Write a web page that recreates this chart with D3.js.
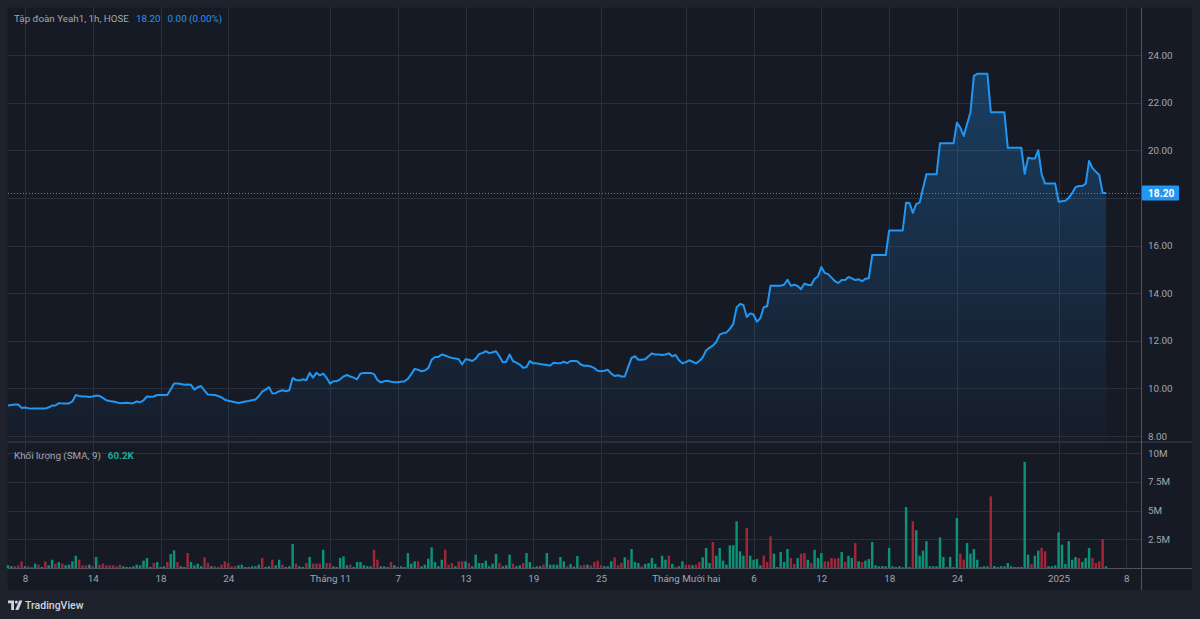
<!DOCTYPE html>
<html>
<head>
<meta charset="utf-8">
<script src="https://cdn.jsdelivr.net/npm/d3@7/dist/d3.min.js"></script>
<style>
  html, body { margin: 0; padding: 0; background: #1e222d; }
  svg { display: block; }
  text { font-family: Roboto, "Noto Sans", "DejaVu Sans", sans-serif; }
</style>
</head>
<body>
<svg id="chart" width="1200" height="619"></svg>
<script>
// ---------------- DATA ----------------
const title = "Tập đoàn Yeah1, 1h, HOSE";
const lastPrice = 18.20;
const changeText = "0.00 (0.00%)";
const volumeLegend = "Khối lượng (SMA, 9)";
const volumeSma = "60.2K";

// hourly closes (5 bars per trading day), from Oct 7 2024
const price = [
  9.28, 9.30, 9.32, 9.32, 9.18, 9.20, 9.17, 9.15, 9.15, 9.15,
  9.15, 9.16, 9.20, 9.28, 9.28, 9.38, 9.37, 9.37, 9.37, 9.45,
  9.72, 9.68, 9.66, 9.66, 9.64, 9.66, 9.70, 9.68, 9.60, 9.50,
  9.47, 9.45, 9.42, 9.38, 9.39, 9.40, 9.38, 9.38, 9.45, 9.42,
  9.50, 9.66, 9.65, 9.66, 9.72, 9.72, 9.72, 9.72, 9.95, 10.20,
  10.20, 10.18, 10.15, 10.16, 10.15, 9.95, 10.05, 10.10, 9.90, 9.74,
  9.73, 9.72, 9.68, 9.62, 9.52, 9.48, 9.45, 9.42, 9.39, 9.42,
  9.45, 9.47, 9.50, 9.53, 9.67, 9.86, 9.95, 10.05, 9.79, 9.80,
  9.88, 9.92, 9.88, 9.92, 10.44, 10.35, 10.33, 10.38, 10.34, 10.65,
  10.45, 10.65, 10.55, 10.62, 10.45, 10.20, 10.30, 10.30, 10.38, 10.50,
  10.56, 10.50, 10.45, 10.38, 10.62, 10.65, 10.65, 10.65, 10.60, 10.35,
  10.25, 10.30, 10.32, 10.28, 10.26, 10.26, 10.28, 10.30, 10.40, 10.60,
  10.82, 10.78, 10.72, 10.75, 10.85, 11.20, 11.32, 11.32, 11.42, 11.38,
  11.32, 11.28, 11.26, 11.22, 11.00, 11.22, 11.20, 11.15, 11.25, 11.44,
  11.48, 11.56, 11.48, 11.52, 11.56, 11.35, 11.10, 11.12, 11.42, 11.15,
  11.08, 11.00, 10.86, 10.90, 11.15, 11.05, 11.05, 11.02, 11.00, 10.98,
  10.96, 11.08, 11.06, 11.05, 11.12, 11.06, 11.15, 11.15, 11.14, 11.00,
  10.95, 10.95, 10.92, 10.85, 10.74, 10.72, 10.74, 10.78, 10.62, 10.52,
  10.55, 10.50, 10.50, 10.90, 11.28, 11.35, 11.20, 11.20, 11.22, 11.35,
  11.47, 11.42, 11.42, 11.40, 11.42, 11.47, 11.35, 11.40, 11.18, 11.05,
  11.10, 11.18, 11.12, 11.05, 11.15, 11.30, 11.60, 11.70, 11.80, 11.95,
  12.26, 12.32, 12.35, 12.50, 12.71, 13.40, 13.55, 13.50, 13.00, 13.15,
  13.10, 12.80, 12.95, 13.41, 13.45, 14.31, 14.31, 14.31, 14.31, 14.35,
  14.56, 14.31, 14.35, 14.30, 14.16, 14.40, 14.35, 14.33, 14.60, 14.70,
  15.10, 14.85, 14.80, 14.65, 14.50, 14.42, 14.55, 14.55, 14.68, 14.62,
  14.55, 14.58, 14.50, 14.60, 14.62, 15.60, 15.60, 15.60, 15.60, 15.60,
  16.63, 16.63, 16.63, 16.63, 16.63, 17.80, 17.78, 17.37, 17.75, 17.80,
  18.40, 18.99, 18.99, 18.99, 18.99, 20.29, 20.29, 20.29, 20.29, 20.29,
  21.16, 20.95, 20.60, 21.10, 21.60, 23.12, 23.21, 23.21, 23.21, 23.21,
  21.60, 21.60, 21.60, 21.60, 21.60, 20.10, 20.10, 20.10, 20.10, 20.10,
  19.01, 19.69, 19.65, 19.65, 20.00, 19.00, 18.60, 18.60, 18.60, 18.60,
  17.84, 17.86, 17.88, 18.00, 18.20, 18.45, 18.50, 18.50, 18.60, 19.55,
  19.25, 19.10, 18.96, 18.20, 18.20
];

// hourly volume, millions of shares
const volume = [
  0.23, 0.15, 0.15, 0.23, 0.58, 0.15, 0.15, 0.06, 0.38, 0.29,
  0.09, 0.58, 0.23, 0.72, 0.38, 0.52, 0.38, 0.23, 0.29, 0.58,
  1.07, 0.72, 0.23, 0.23, 0.29, 0.15, 0.96, 0.29, 0.38, 0.23,
  0.23, 0.23, 0.15, 0.29, 0.15, 0.09, 0.09, 0.15, 0.29, 0.23,
  0.64, 0.87, 0.09, 0.43, 0.52, 0.09, 0.15, 0.52, 1.22, 1.54,
  0.52, 0.15, 0.09, 1.30, 0.52, 0.23, 0.38, 0.15, 0.93, 0.43,
  0.15, 0.15, 0.09, 0.29, 0.58, 0.43, 0.15, 0.15, 0.23, 0.29,
  0.09, 0.09, 0.15, 0.15, 0.29, 0.87, 0.09, 0.15, 0.72, 0.23,
  0.72, 0.29, 0.09, 0.15, 2.09, 0.38, 0.15, 0.09, 0.43, 0.96,
  0.38, 0.38, 0.38, 1.59, 0.43, 0.43, 0.15, 0.09, 0.87, 1.01,
  0.23, 0.29, 0.09, 0.52, 0.52, 0.23, 0.15, 0.15, 1.59, 0.72,
  0.15, 0.15, 0.09, 0.52, 0.23, 0.09, 0.15, 0.09, 1.30, 0.38,
  0.58, 0.58, 0.15, 0.29, 0.81, 1.80, 0.52, 0.15, 0.72, 1.59,
  0.29, 0.43, 0.15, 0.58, 0.58, 0.58, 0.43, 0.15, 1.16, 0.43,
  0.43, 0.64, 0.15, 0.38, 1.22, 0.43, 0.15, 0.23, 1.16, 0.38,
  0.15, 0.23, 0.43, 1.30, 0.52, 0.09, 0.15, 0.15, 0.29, 1.30,
  0.29, 0.29, 0.29, 0.96, 0.58, 0.15, 0.35, 0.12, 1.04, 0.23,
  0.29, 0.29, 0.23, 0.52, 0.64, 0.23, 0.15, 0.15, 0.58, 0.93,
  0.23, 0.43, 0.93, 0.72, 1.65, 0.52, 0.43, 0.15, 0.35, 0.43,
  0.87, 0.35, 0.09, 1.07, 0.72, 1.07, 0.35, 0.09, 0.15, 0.58,
  0.29, 0.29, 0.23, 0.29, 0.52, 0.93, 1.74, 0.43, 2.26, 1.07,
  1.74, 0.64, 0.29, 1.97, 1.97, 4.06, 1.45, 1.07, 3.48, 1.07,
  0.72, 0.78, 0.23, 1.07, 0.52, 2.75, 1.25, 0.09, 1.39, 0.52,
  1.65, 0.87, 0.35, 0.87, 1.25, 1.30, 0.72, 0.43, 1.59, 0.87,
  1.30, 0.58, 0.58, 0.87, 0.81, 0.87, 1.39, 0.52, 1.07, 0.87,
  2.17, 0.58, 0.52, 0.64, 0.78, 2.26, 0.23, 0.15, 0.17, 0.15,
  1.74, 0.15, 0.09, 0.15, 0.06, 5.30, 0.09, 4.06, 3.28, 1.07,
  1.51, 2.32, 0.15, 0.15, 0.15, 2.67, 0.96, 0.09, 0.96, 0.09,
  4.35, 1.25, 0.72, 2.17, 1.25, 1.65, 0.72, 0.09, 0.15, 0.15,
  6.23, 0.17, 0.09, 0.15, 0.15, 0.43, 0.15, 0.09, 0.09, 0.09,
  9.22, 1.16, 0.35, 1.07, 1.51, 1.74, 1.45, 0.15, 0.15, 0.23,
  3.10, 2.03, 0.35, 2.32, 0.72, 0.96, 0.87, 0.52, 0.87, 1.74,
  0.87, 0.43, 0.58, 2.52, 0.15
];

// 1 = up bar (green), 0 = down bar (red)
const volUp = [
  1,1,0,0,0,1,0,1,1,0, 1,0,1,1,0,1,0,1,1,1, 1,0,0,0,1,0,1,0,0,0,
  0,0,0,0,1,1,1,1,1,1, 1,1,1,0,1,1,1,0,1,1, 0,1,1,0,1,1,1,1,0,0,
  1,0,0,0,0,0,0,0,1,1, 1,1,1,1,1,0,1,1,0,1, 1,0,1,1,1,0,1,1,0,1,
  0,0,0,1,0,0,1,1,1,1, 1,0,1,1,1,1,1,1,0,0, 1,1,1,0,1,1,1,1,1,1,
  1,0,1,1,1,1,1,1,1,0, 0,0,1,0,0,1,0,1,1,1, 1,1,1,1,1,0,1,1,1,0,
  1,1,0,1,1,1,1,1,0,1, 1,1,1,1,1,0,1,1,1,0, 0,1,0,0,0,0,1,1,1,0,
  0,0,1,0,1,1,1,0,1,1, 1,1,0,1,1,0,1,0,1,1, 0,0,1,0,0,1,1,1,0,1,
  1,1,1,1,1,1,1,1,0,1, 1,1,1,0,0,0,1,1,1,1, 1,0,0,1,0,0,1,0,1,1,
  1,0,0,0,0,0,1,0,1,1, 0,1,0,1,1,1,1,1,1,1, 1,1,1,1,1,1,1,0,1,1,
  1,1,1,1,1,1,1,1,1,1, 1,0,0,1,1,1,1,1,1,1, 0,1,1,1,1,1,1,1,1,1,
  1,1,0,1,1,0,0,1,1,1, 1,1,1,1,1,1,0,1,1,1, 0,0,0,0,1
];

// time axis: [trading-day index, label]
const tickDays = [1, 5, 9, 13, 19, 23, 27, 31, 35, 40, 44, 48, 52, 56, 62, 66];
const tickLabels = ["8", "14", "18", "24", "Tháng 11", "7", "13", "19", "25",
                    "Tháng Mười hai", "6", "12", "18", "24", "2025", "8"];
const priceTicks = [8, 10, 12, 14, 16, 18, 20, 22, 24];
const volTicks = [2.5, 5, 7.5, 10];
const volTickLabels = ["2.5M", "5M", "7.5M", "10M"];
const barsPerDay = 5;

// ---------------- LAYOUT ----------------
const W = { left: 7.5, top: 7.5, right: 1192, bottom: 590 };
const plotRight = 1141;
const pricePane = { top: 8, bottom: 441 };
const volPane = { top: 442, bottom: 568 };
const FS = 9.8;

const C = {
  outer: "#1e222d", bg: "#161a25", grid: "#2b2f3a", border: "#50535e",
  text: "#a3a6af", blue: "#2196f3",
  volGreen: "#0b9278", volRed: "#a02638", legendGreen: "#22ab94"
};

const svg = d3.select("#chart");
svg.append("rect").attr("width", 1200).attr("height", 619).attr("fill", C.outer);
svg.append("rect").attr("x", W.left).attr("y", W.top)
  .attr("width", W.right - W.left).attr("height", W.bottom - W.top).attr("fill", C.bg);

// scales
const x = d3.scaleLinear().domain([0, 66]).range([8, 8 + 66 * 16.945]);
const xBar = i => x(i / barsPerDay);
const yP = d3.scaleLinear().domain([8, 24]).range([436, 55]);
const yV = d3.scaleLinear().domain([0, 10]).range([568, 453]);

const defs = svg.append("defs");
defs.append("clipPath").attr("id", "pclip").append("rect")
  .attr("x", 8).attr("y", pricePane.top).attr("width", plotRight - 8).attr("height", pricePane.bottom - pricePane.top);
const grad = defs.append("linearGradient").attr("id", "areaGrad")
  .attr("gradientUnits", "userSpaceOnUse").attr("x1", 0).attr("x2", 0)
  .attr("y1", yP(24)).attr("y2", pricePane.bottom);
grad.append("stop").attr("offset", "0%").attr("stop-color", C.blue).attr("stop-opacity", 0.30);
grad.append("stop").attr("offset", "100%").attr("stop-color", C.blue).attr("stop-opacity", 0.02);

// grid
const grid = svg.append("g");
grid.selectAll("line.v").data(tickDays).join("line")
  .attr("x1", d => Math.round(x(d)) + 0.5).attr("x2", d => Math.round(x(d)) + 0.5)
  .attr("y1", W.top).attr("y2", volPane.bottom)
  .attr("stroke", C.grid).attr("stroke-width", 1);
grid.selectAll("line.hp").data(priceTicks).join("line")
  .attr("x1", 8).attr("x2", plotRight)
  .attr("y1", d => Math.round(yP(d)) + 0.5).attr("y2", d => Math.round(yP(d)) + 0.5)
  .attr("stroke", C.grid);
grid.selectAll("line.hv").data(volTicks).join("line")
  .attr("x1", 8).attr("x2", plotRight)
  .attr("y1", d => Math.round(yV(d)) + 0.5).attr("y2", d => Math.round(yV(d)) + 0.5)
  .attr("stroke", C.grid);
// pane separator
svg.append("rect").attr("x", W.left).attr("y", pricePane.bottom).attr("width", W.right - W.left)
  .attr("height", 2).attr("fill", "#2a2e39");

// area + line
const area = d3.area().x((d, i) => xBar(i)).y0(pricePane.bottom).y1(d => yP(d));
const line = d3.line().x((d, i) => xBar(i)).y(d => yP(d));
const pg = svg.append("g").attr("clip-path", "url(#pclip)");
pg.append("path").datum(price).attr("d", area).attr("fill", "url(#areaGrad)");
pg.append("path").datum(price).attr("d", line).attr("fill", "none")
  .attr("stroke", C.blue).attr("stroke-width", 2).attr("stroke-linejoin", "round");

// last price dotted line
svg.append("line").attr("x1", 8).attr("x2", plotRight)
  .attr("y1", Math.round(yP(lastPrice)) + 0.5).attr("y2", Math.round(yP(lastPrice)) + 0.5)
  .attr("stroke", C.blue).attr("stroke-width", 1).attr("stroke-dasharray", "1,2");

// volume bars
const bw = 16.945 / barsPerDay * 0.72;
svg.append("g").selectAll("rect").data(volume).join("rect")
  .attr("x", (d, i) => xBar(i) - bw / 2)
  .attr("y", d => yV(d))
  .attr("width", bw)
  .attr("height", d => Math.max(0.5, yV(0) - yV(d)))
  .attr("fill", (d, i) => volUp[i] ? C.volGreen : C.volRed);

// borders of axes
svg.append("line").attr("x1", plotRight + 0.5).attr("x2", plotRight + 0.5)
  .attr("y1", W.top).attr("y2", W.bottom).attr("stroke", C.border);
svg.append("line").attr("x1", W.left).attr("x2", W.right)
  .attr("y1", volPane.bottom + 0.5).attr("y2", volPane.bottom + 0.5).attr("stroke", C.border);

// price axis (the 18.00 label sits under the last-price tag, as in the original)
const pAxis = svg.append("g").attr("transform", `translate(${plotRight},0)`)
  .call(d3.axisRight(yP).tickValues(priceTicks.filter(d => Math.abs(d - lastPrice) > 0.5))
    .tickFormat(d3.format(".2f")).tickSize(0).tickPadding(7));
pAxis.select(".domain").remove();
pAxis.selectAll("text").attr("fill", C.text).attr("font-size", FS);

// volume axis
const vAxis = svg.append("g").attr("transform", `translate(${plotRight},0)`)
  .call(d3.axisRight(yV).tickValues(volTicks).tickFormat((d, i) => volTickLabels[i]).tickSize(0).tickPadding(7));
vAxis.select(".domain").remove();
vAxis.selectAll("text").attr("fill", C.text).attr("font-size", FS);

// time axis
const tAxis = svg.append("g").attr("transform", `translate(0,${volPane.bottom})`)
  .call(d3.axisBottom(x).tickValues(tickDays).tickFormat((d, i) => tickLabels[i]).tickSize(0).tickPadding(7));
tAxis.select(".domain").remove();
tAxis.selectAll("text").attr("fill", C.text).attr("font-size", FS);

// last price label (covers the 18.00 tick)
const ly = yP(lastPrice);
svg.append("rect").attr("x", plotRight + 1).attr("y", ly - 7.5).attr("width", 37).attr("height", 15)
  .attr("fill", C.blue).attr("rx", 1);
svg.append("text").attr("x", plotRight + 7).attr("y", ly).attr("dy", "0.35em")
  .attr("fill", "#ffffff").attr("font-size", FS + 0.4).attr("font-weight", 700).text(lastPrice.toFixed(2));

// legends
const lg = svg.append("text").attr("x", 14).attr("y", 19).attr("dy", "0.35em").attr("font-size", FS);
lg.append("tspan").attr("fill", C.text).text(title);
lg.append("tspan").attr("fill", C.blue).attr("dx", 7).text(lastPrice.toFixed(2));
lg.append("tspan").attr("fill", C.blue).attr("dx", 7).text(changeText);

const vl = svg.append("text").attr("x", 14).attr("y", 456).attr("dy", "0.35em").attr("font-size", FS);
vl.append("tspan").attr("fill", C.text).text(volumeLegend);
vl.append("tspan").attr("fill", C.legendGreen).attr("font-weight", 700).attr("dx", 7).text(volumeSma);

// TradingView logo
const logo = svg.append("g").attr("fill", "#d1d4dc");
logo.append("path").attr("d", "M8,600.5 h6 v9.5 h-2.8 v-6.8 h-3.2 z");
logo.append("circle").attr("cx", 16.3).attr("cy", 602).attr("r", 1.5);
logo.append("path").attr("d", "M19.2,600.5 h3.2 l-4,9.5 h-3.1 z");
svg.append("text").attr("x", 25).attr("y", 605.5).attr("dy", "0.35em")
  .attr("fill", "#d1d4dc").attr("font-size", 10.5).attr("font-weight", 500).text("TradingView");
</script>
</body>
</html>
